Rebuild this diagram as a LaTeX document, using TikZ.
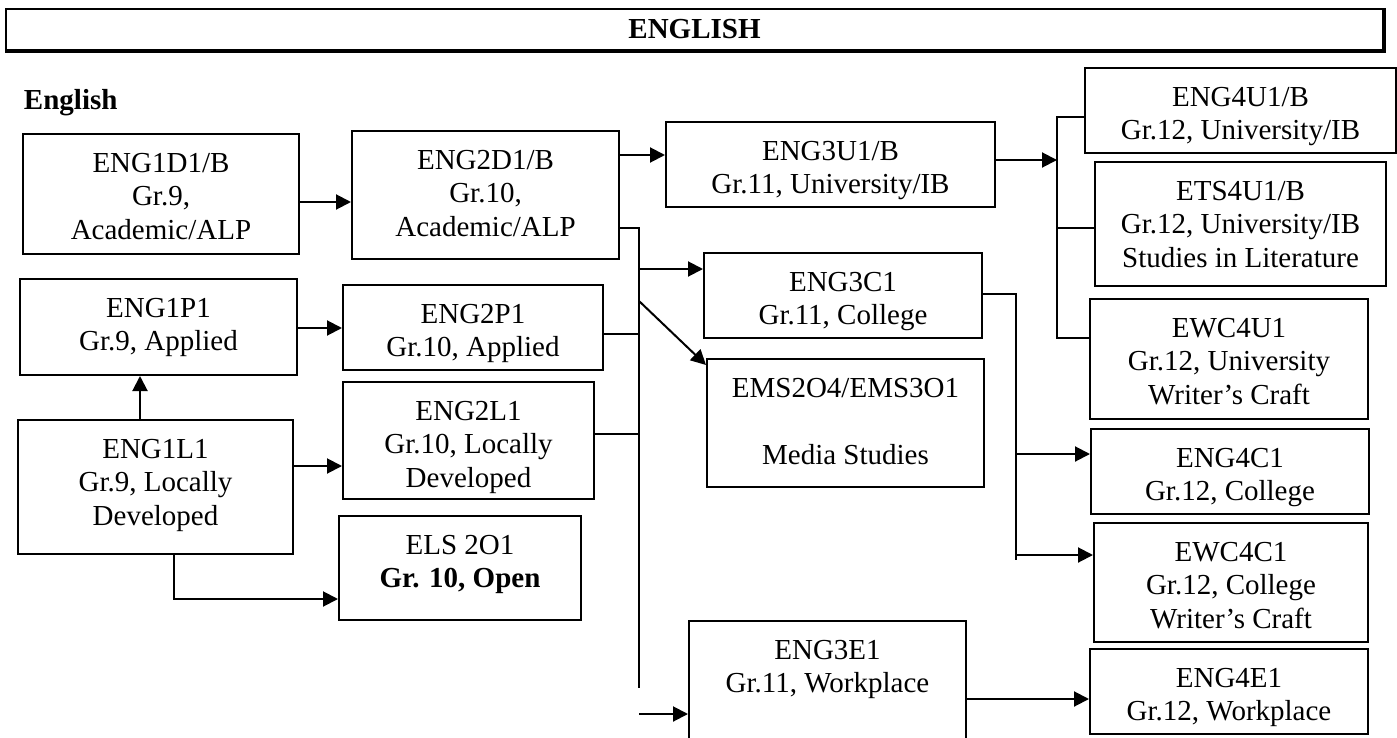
\documentclass[tikz,border=0pt]{standalone}
\usepackage{fontspec}
\setmainfont{Liberation Serif}
\usetikzlibrary{arrows.meta}

\begin{document}
\begin{tikzpicture}[x=0.5pt, y=-0.5pt, line width=1pt,
	>={Triangle[length=7.5pt, width=7.5pt]},
	box/.style={draw, inner sep=0pt},
	txt/.style={anchor=north, align=center, inner sep=0pt, yshift=-9.5pt, font=\fontsize{14.5}{16.75}\selectfont},
	hd/.style={inner sep=0pt, font=\bfseries\fontsize{14.5}{16.75}\selectfont}]
	\useasboundingbox (0,0) rectangle (1397,738);

	\node [box, hd, line width=0.8pt, minimum width=688.5pt, minimum height=20.5pt] (title) at (694.5,29.5) {ENGLISH};
	\draw [line width=1.8pt] (title.north east) -- (title.south east) -- (title.south west);
	\node [hd, anchor=west] (english) at (23,103) {English};

	% grade 9 and 10
	\node [box, minimum width=138pt, minimum height=60pt, label={[txt]north:{ENG1D1/B\\Gr.9,\\Academic/ALP}}] (eng1d1) at (161,194) {};
	\node [box, minimum width=133.5pt, minimum height=64pt, label={[txt]north:{ENG2D1/B\\Gr.10,\\Academic/ALP}}] (eng2d1) at (485.5,195) {};
	\node [box, minimum width=138.5pt, minimum height=48pt, label={[txt]north:{ENG1P1\\Gr.9, Applied}}] (eng1p1) at (158.5,327) {};
	\node [box, minimum width=130pt, minimum height=42.5pt, label={[txt]north:{ENG2P1\\Gr.10, Applied}}] (eng2p1) at (473,327.5) {};
	\node [box, minimum width=137.5pt, minimum height=67pt, label={[txt]north:{ENG1L1\\Gr.9, Locally\\Developed}}] (eng1l1) at (155.5,487) {};
	\node [box, minimum width=125.5pt, minimum height=58.5pt, label={[txt]north:{ENG2L1\\Gr.10, Locally\\Developed}}] (eng2l1) at (468.5,440.5) {};
	\node [box, minimum width=121pt, minimum height=52pt, label={[txt]north:{ELS 2O1\\\textbf{Gr. 10, Open}}}] (els2o1) at (460,568) {};

	% grade 11
	\node [box, minimum width=164.5pt, minimum height=42.5pt, label={[txt]north:{ENG3U1/B\\Gr.11, University/IB}}] (eng3u1) at (830.5,164.5) {};
	\node [box, minimum width=139pt, minimum height=42.5pt, label={[txt]north:{ENG3C1\\Gr.11, College}}] (eng3c1) at (843,295.5) {};
	\node [box, minimum width=138.5pt, minimum height=64pt, label={[txt]north:{EMS2O4/EMS3O1\\~\\Media Studies}}] (ems) at (845.5,423) {};
	\node [box, minimum width=138.5pt, minimum height=62pt, label={[txt]north:{ENG3E1\\Gr.11, Workplace}}] (eng3e1) at (827.5,683) {};

	% grade 12
	\node [box, minimum width=155.5pt, minimum height=42.5pt, label={[txt]north:{ENG4U1/B\\Gr.12, University/IB}}] (eng4u1) at (1240.5,110.5) {};
	\node [box, minimum width=145.5pt, minimum height=62pt, label={[txt]north:{ETS4U1/B\\Gr.12, University/IB\\Studies in Literature}}] (ets4u1) at (1240.5,224) {};
	\node [box, minimum width=139pt, minimum height=60pt, label={[txt]north:{EWC4U1\\Gr.12, University\\Writer’s Craft}}] (ewc4u1) at (1229,359) {};
	\node [box, minimum width=139pt, minimum height=42.5pt, label={[txt]north:{ENG4C1\\Gr.12, College}}] (eng4c1) at (1230,471.5) {};
	\node [box, minimum width=137pt, minimum height=59.5pt, label={[txt]north:{EWC4C1\\Gr.12, College\\Writer’s Craft}}] (ewc4c1) at (1231,582.5) {};
	\node [box, minimum width=139pt, minimum height=42.5pt, label={[txt]north:{ENG4E1\\Gr.12, Workplace}}] (eng4e1) at (1229,691.5) {};

	\coordinate (busten) at (639,688);
	\coordinate (busuni) at (1057,117);
	\coordinate (buscol) at (1016,560);

	\draw [->] (eng1d1.east |- 0,202) -- (eng2d1.west |- 0,202);
	\draw [->] (eng1p1.east |- 0,328) -- (eng2p1.west |- 0,328);
	\draw [->] (eng1l1.north -| 140,0) -- (eng1p1.south -| 140,0);
	\draw [->] (eng1l1.east |- 0,466) -- (eng2l1.west |- 0,466);
	\draw [->] (eng1l1.south -| 174,0) |- (els2o1.west |- 0,599);
	\draw [->] (eng2d1.east |- 0,155) -- (eng3u1.west |- 0,155);

	\draw (eng2d1.east |- 0,228) -| (busten);
	\draw (eng2p1.east |- 0,334) -- (busten |- 0,334);
	\draw (eng2l1.east |- 0,434) -- (busten |- 0,434);
	\draw [->] (busten |- 0,269) -- (eng3c1.west |- 0,269);
	\draw [->] (busten |- 0,301) -- ([yshift=-3.5pt]ems.north west);
	\draw [->] (busten |- 0,714) -- (eng3e1.west |- 0,714);

	\draw [->] (eng3u1.east |- 0,160) -- (busuni |- 0,160);
	\draw (eng4u1.west |- busuni) -- (busuni) -- (busuni |- 0,338) -- (ewc4u1.west |- 0,338);
	\draw (busuni |- 0,228) -- (ets4u1.west |- 0,228);

	\draw (eng3c1.east |- 0,294) -| (buscol);
	\draw [->] (buscol |- 0,454) -- (eng4c1.west |- 0,454);
	\draw [->] (buscol |- 0,555) -- (ewc4c1.west |- 0,555);
	\draw [->] (eng3e1.east |- 0,699) -- (eng4e1.west |- 0,699);
\end{tikzpicture}
\end{document}
